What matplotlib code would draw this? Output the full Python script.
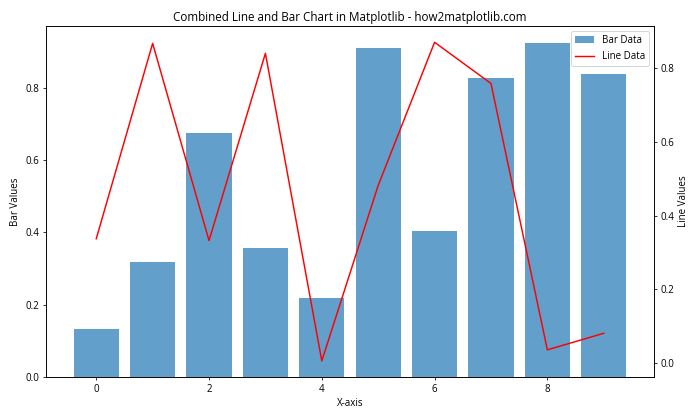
import numpy as np
import matplotlib.pyplot as plt

plt.rcParams['font.family'] = ['Open Sans', 'DejaVu Sans']

# значения
x = np.arange(10)
bar_values = [0.133, 0.317, 0.675, 0.356, 0.219, 0.911, 0.403, 0.828, 0.925, 0.839]
line_values = [0.337, 0.868, 0.332, 0.841, 0.005, 0.482, 0.871, 0.759, 0.035, 0.080]

fig, ax1 = plt.subplots(figsize=(10, 6), dpi=70)

ax1.bar(x, bar_values, alpha=0.7, label='Bar Data')
ax1.set_xlabel('X-axis')
ax1.set_ylabel('Bar Values')

ax2 = ax1.twinx()
ax2.plot(x, line_values, color='red', label='Line Data')
ax2.set_ylabel('Line Values')

# общая легенда для двух осей
h1, l1 = ax1.get_legend_handles_labels()
h2, l2 = ax2.get_legend_handles_labels()
ax2.legend(h1 + h2, l1 + l2, loc='upper right')

plt.title('Combined Line and Bar Chart in Matplotlib - how2matplotlib.com')
plt.tight_layout()
plt.savefig('out.png')
